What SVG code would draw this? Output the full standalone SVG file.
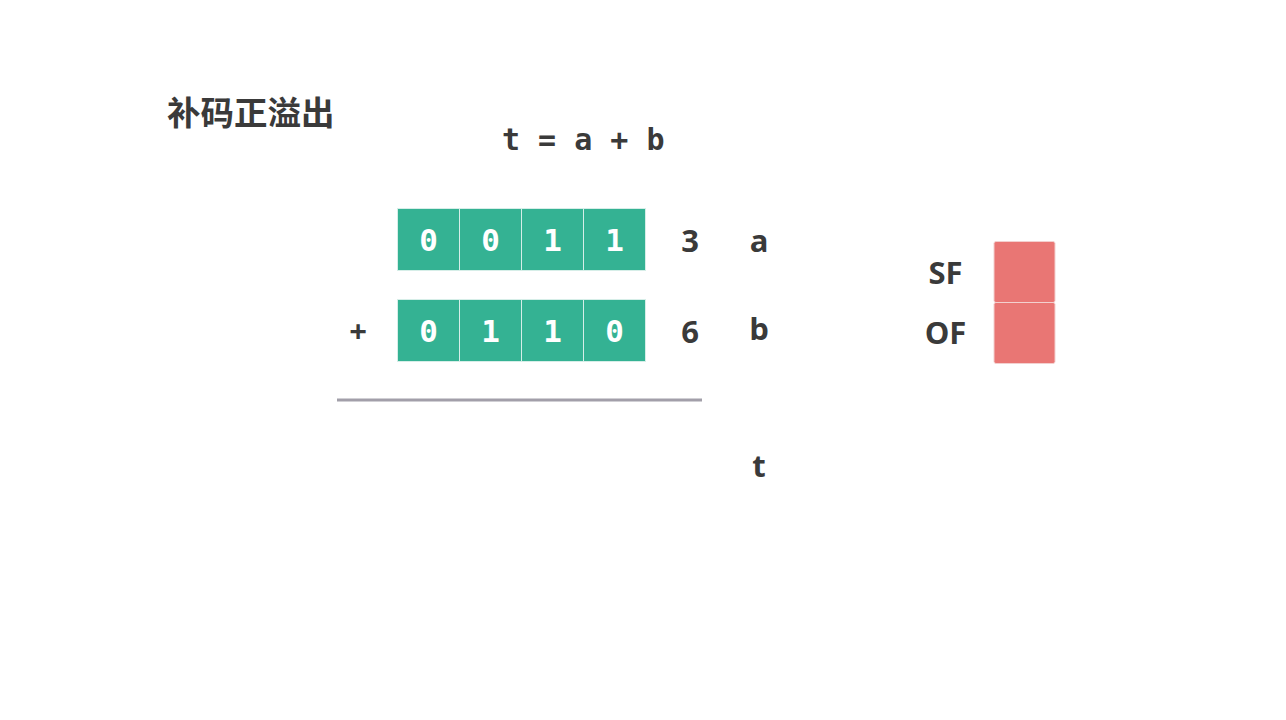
<svg xmlns="http://www.w3.org/2000/svg" width="1286" height="720" viewBox="0 0 1286 720">
<style>
.cell{fill:#34b293;stroke:#d6eee8;stroke-width:1}
.flag{fill:#e97674;stroke:#f3d0cf;stroke-width:1}
.bit{font-family:"DejaVu Sans Mono",monospace;font-weight:bold;font-size:31px;fill:#ffffff;text-anchor:middle;dominant-baseline:central}
.lbl{font-family:"Open Sans","DejaVu Sans",sans-serif;font-weight:bold;font-size:31px;fill:#3a3a3a;text-anchor:middle;dominant-baseline:central}
.mono{font-family:"DejaVu Sans Mono",monospace;font-weight:bold;font-size:30px;fill:#3a3a3a}
.title{font-family:"Noto Sans CJK SC",sans-serif;font-weight:bold;font-size:33.5px;fill:#3a3a3a}
</style>
<rect width="1286" height="720" fill="#ffffff"/>
<text class="title" x="167" y="125">补码正溢出</text>
<text class="mono" x="502" y="150">t = a + b</text>
<g id="row-a">
<rect class="cell" x="397.5" y="208.5" width="62" height="62"/>
<rect class="cell" x="459.5" y="208.5" width="62" height="62"/>
<rect class="cell" x="521.5" y="208.5" width="62" height="62"/>
<rect class="cell" x="583.5" y="208.5" width="62" height="62"/>
<text class="bit" x="428.5" y="240">0</text>
<text class="bit" x="490.5" y="240">0</text>
<text class="bit" x="552.5" y="240">1</text>
<text class="bit" x="614.5" y="240">1</text>
<text class="lbl" x="690" y="240">3</text>
<text class="lbl" x="759" y="240">a</text>
</g>
<g id="row-b">
<text class="lbl" x="358" y="330">+</text>
<rect class="cell" x="397.5" y="299.5" width="62" height="62"/>
<rect class="cell" x="459.5" y="299.5" width="62" height="62"/>
<rect class="cell" x="521.5" y="299.5" width="62" height="62"/>
<rect class="cell" x="583.5" y="299.5" width="62" height="62"/>
<text class="bit" x="428.5" y="331">0</text>
<text class="bit" x="490.5" y="331">1</text>
<text class="bit" x="552.5" y="331">1</text>
<text class="bit" x="614.5" y="331">0</text>
<text class="lbl" x="690" y="331">6</text>
<text class="lbl" x="759" y="328">b</text>
</g>
<g id="sum-line">
<line x1="337" y1="400" x2="702" y2="400" stroke="#a29fa9" stroke-width="3"/>
<text class="lbl" x="759" y="465">t</text>
</g>
<g id="flags">
<rect class="flag" x="994" y="241.5" width="61" height="61" rx="2"/>
<rect class="flag" x="994" y="302.5" width="61" height="61" rx="2"/>
<text class="lbl" x="945.5" y="272">SF</text>
<text class="lbl" x="945.5" y="332">OF</text>
</g>
</svg>
